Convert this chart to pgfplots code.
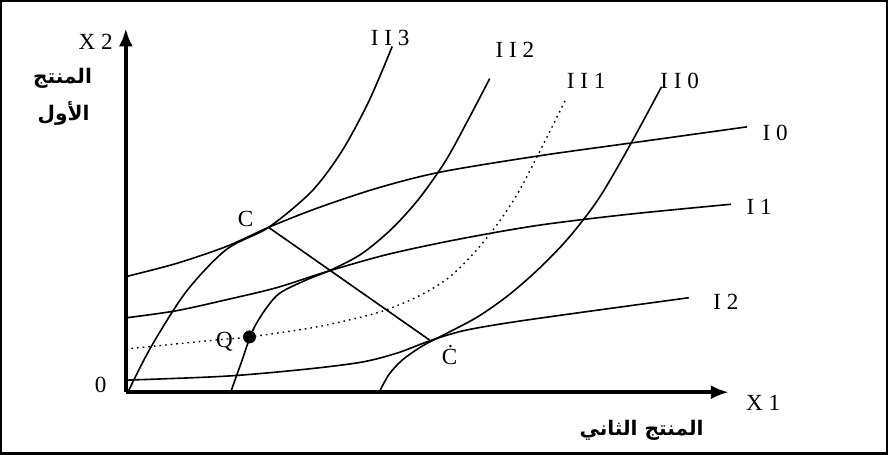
\documentclass[border=0pt]{standalone}
\usepackage{fontspec}
\setmainfont{Liberation Serif}
\newfontfamily\arabicfont[Script=Arabic]{DejaVu Sans}
\TeXXeTstate=1
\usepackage{pgfplots}
\pgfplotsset{compat=1.18}
\usetikzlibrary{arrows.meta}
\tikzset{
    lbl/.style={font=\fontsize{11.5}{13}\selectfont},
    arab/.style={font=\fontsize{10}{11}\selectfont\arabicfont\bfseries},
}

\begin{document}
\begin{tikzpicture}
\begin{axis}[
    x=0.5pt, y=0.5pt,
    xmin=0, xmax=600, ymin=0, ymax=362,
    axis lines=left,
    axis line style={line width=2pt, -{Latex[length=9pt,width=7pt]}},
    xtick=\empty, ytick=\empty,
    clip=false,
    curve/.style={black, line width=0.8pt, smooth, tension=0.5, no markers},
]
% frame
\draw[line width=1.2pt] (axis cs:-124,-61) rectangle (axis cs:757,389);

% I curves
\addplot[curve] coordinates {(0,115) (50,128) (100,145) (142,164) (190,183) (250,203) (313,219) (410,235) (503,248) (618,264)};
\addplot[curve] coordinates {(0,74) (50,81) (100,92) (150,104) (200,120) (260,137) (330,152) (410,166) (500,177) (602,187)};
\addplot[curve] coordinates {(0,12) (100,16) (180,23) (235,30) (270,39) (302,51) (335,61) (380,69) (450,79) (560,94)};

% II curves
\addplot[curve] coordinates {(3,2) (25,45) (60,100) (100,142) (142,164) (185,200) (215,240) (242,290) (265,344)};
\addplot[curve] coordinates {(105,2) (115,30) (128,65) (150,96) (178,111) (205,122) (235,138) (265,163) (292,193) (318,230) (340,270) (362,312)};
\addplot[curve, dotted, line width=0.7pt] coordinates {(0,43) (90,52) (123,55) (190,65) (250,79) (290,95) (320,113) (345,137) (368,165) (390,198) (412,240) (437,290)};
\addplot[curve] coordinates {(253,2) (262,18) (275,32) (295,46) (320,59) (350,75) (380,96) (410,122) (440,153) (470,192) (500,243) (533,304)};

% contract line C - C'
\addplot[black, line width=0.8pt, sharp plot, no markers] coordinates {(142,164) (302,52)};

% point Q
\addplot[only marks, mark=*, mark size=3pt, black] coordinates {(123,55)};

% labels
\node[lbl] at (axis cs:-30,349) {X 2};
\node[arab] at (axis cs:-63,312) {\beginR المنتج\endR};
\node[arab] at (axis cs:-62,277) {\beginR الأول\endR};
\node[lbl] at (axis cs:-25,7) {0};
\node[lbl] at (axis cs:634,-11) {X 1};
\node[arab] at (axis cs:513,-38) {\beginR المنتج الثاني\endR};
\node[lbl] at (axis cs:263,352) {I I 3};
\node[lbl] at (axis cs:387,341) {I I 2};
\node[lbl] at (axis cs:458,310) {I I 1};
\node[lbl] at (axis cs:551,310) {I I 0};
\node[lbl] at (axis cs:646,258) {I 0};
\node[lbl] at (axis cs:630,184) {I 1};
\node[lbl] at (axis cs:597,90) {I 2};
\node[lbl] at (axis cs:119,172) {C};
\node[lbl] at (axis cs:322,37) {Ċ};
\node[lbl] at (axis cs:98,50) {Q};
\end{axis}
\end{tikzpicture}
\end{document}
